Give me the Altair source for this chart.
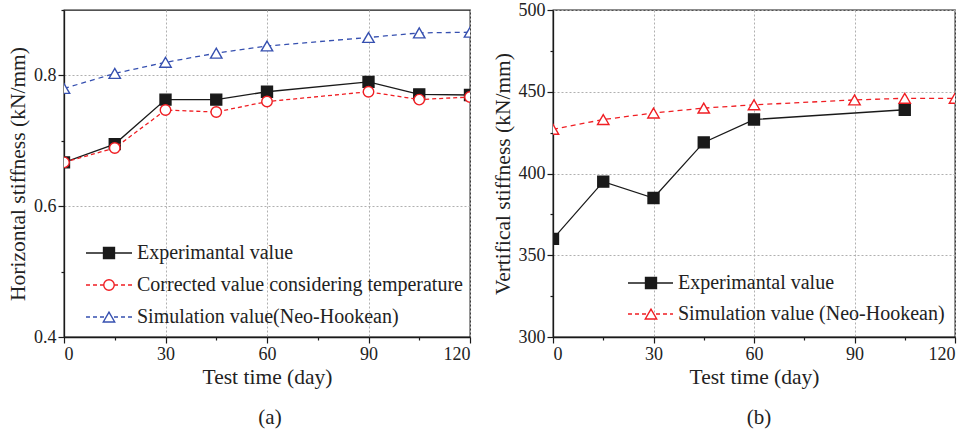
import altair as alt
import pandas as pd

# ---- data -------------------------------------------------------------
days = [0, 15, 30, 45, 60, 90, 105, 120]

h_experimental = [0.667, 0.695, 0.763, 0.763, 0.775, 0.790, 0.771, 0.770]
h_corrected = [0.667, 0.689, 0.747, 0.744, 0.760, 0.775, 0.763, 0.767]
h_simulation = [0.780, 0.803, 0.820, 0.834, 0.845, 0.858, 0.865, 0.866]

v_days_exp = [0, 15, 30, 45, 60, 105]
v_experimental = [360, 395, 385, 419, 433, 439]
v_simulation = [427, 433, 437, 440, 442, 445, 446, 446]

x_ticks = [0, 15, 30, 45, 60, 75, 90, 105, 120]
h_ticks = [0.4, 0.5, 0.6, 0.7, 0.8, 0.9]
v_ticks = [300, 325, 350, 375, 400, 425, 450, 475, 500]

FONT = "Liberation Serif"
BLACK = "#1a1a1a"
RED = "#f01e23"
BLUE = "#3650b0"
TEXT = "#222222"

MARK_SIZE = {"square": 120, "circle": 110, "triangle-up": 130}


def series_layers(x, y, color, dash, shape, filled, xscale, yscale):
    df = pd.DataFrame({"day": x, "value": y})
    base = alt.Chart(df).encode(
        x=alt.X("day:Q", scale=xscale),
        y=alt.Y("value:Q", scale=yscale),
    )
    line_kw = dict(color=color, strokeWidth=1.3, clip=True)
    if dash:
        line_kw["strokeDash"] = dash
    line = base.mark_line(**line_kw)
    pts = base.mark_point(
        shape=shape,
        size=MARK_SIZE[shape],
        filled=True,
        fill=color if filled else "white",
        stroke=color,
        strokeWidth=1.4,
        opacity=1,
        clip=True,
    )
    return [line, pts]


def legend_layers(entries, x0, x1, xm, xt, y0, gap):
    layers = []
    for i, (label, color, dash, shape, filled) in enumerate(entries):
        yy = y0 + i * gap
        d = alt.Chart(pd.DataFrame({"label": [label]}))
        rule_kw = dict(color=color, strokeWidth=1.3)
        if dash:
            rule_kw["strokeDash"] = dash
        layers.append(
            d.mark_rule(**rule_kw).encode(
                x=alt.value(x0), x2=alt.value(x1), y=alt.value(yy)
            )
        )
        layers.append(
            d.mark_point(
                shape=shape,
                size=MARK_SIZE[shape],
                filled=True,
                fill=color if filled else "white",
                stroke=color,
                strokeWidth=1.4,
                opacity=1,
            ).encode(x=alt.value(xm), y=alt.value(yy))
        )
        layers.append(
            d.mark_text(
                align="left", baseline="middle", font=FONT, fontSize=20,
                color=TEXT
            ).encode(x=alt.value(xt), y=alt.value(yy), text="label:N")
        )
    return layers


def caption(text, cx, cy):
    return alt.Chart(pd.DataFrame({"t": [text]})).mark_text(
        font=FONT, fontSize=21, color=TEXT, align="center", baseline="middle"
    ).encode(x=alt.value(cx), y=alt.value(cy), text="t:N")


def x_axis():
    return alt.Axis(
        values=x_ticks,
        labelExpr="datum.value % 30 == 0 ? datum.label : ''",
        tickSize={"condition": {"test": "datum.value % 30 == 0", "value": 6}, "value": 3},
        gridOpacity={"condition": {"test": "datum.value % 30 == 0", "value": 1}, "value": 0},
        title="Test time (day)",
        titlePadding=3,
        labelPadding=2,
    )


xscale = alt.Scale(domain=[0, 120], nice=False, zero=False)

# ---- (a) horizontal stiffness ----------------------------------------
A_W, A_H = 406, 327
hscale = alt.Scale(domain=[0.4, 0.9], nice=False, zero=False)
h_layers = []
h_layers += series_layers(days, h_experimental, BLACK, None, "square", True, xscale, hscale)
h_layers += series_layers(days, h_corrected, RED, [4, 3], "circle", False, xscale, hscale)
h_layers += series_layers(days, h_simulation, BLUE, [5, 4], "triangle-up", False, xscale, hscale)
h_layers[0] = h_layers[0].encode(
    x=alt.X("day:Q", scale=xscale, axis=x_axis()),
    y=alt.Y(
        "value:Q",
        scale=hscale,
        axis=alt.Axis(
            values=h_ticks,
            format=".1f",
            labelExpr="(round(datum.value*10) % 2 == 0 && datum.value < 0.85) ? datum.label : ''",
            tickSize={"condition": {"test": "round(datum.value*10) % 2 == 0", "value": 6}, "value": 3},
            gridOpacity={"condition": {"test": "round(datum.value*10) % 2 == 0", "value": 1}, "value": 0},
            title="Horizontal stiffness (kN/mm)",
            titlePadding=4,
            labelPadding=2,
        ),
    ),
)
h_layers += legend_layers(
    [
        ("Experimantal value", BLACK, None, "square", True),
        ("Corrected value considering temperature", RED, [4, 3], "circle", False),
        ("Simulation value(Neo-Hookean)", BLUE, [4, 3], "triangle-up", False),
    ],
    22, 68, 45, 73, 243, 32,
)
h_layers.append(caption("(a)", A_W / 2 + 3, 408))
panel_a = alt.layer(*h_layers).properties(width=A_W, height=A_H)

# ---- (b) vertical stiffness ------------------------------------------
B_W, B_H = 402, 327
vscale = alt.Scale(domain=[300, 500], nice=False, zero=False)
v_layers = []
v_layers += series_layers(v_days_exp, v_experimental, BLACK, None, "square", True, xscale, vscale)
v_layers += series_layers(days, v_simulation, RED, [5, 4], "triangle-up", False, xscale, vscale)
v_layers[0] = v_layers[0].encode(
    x=alt.X("day:Q", scale=xscale, axis=x_axis()),
    y=alt.Y(
        "value:Q",
        scale=vscale,
        axis=alt.Axis(
            values=v_ticks,
            labelExpr="datum.value % 50 == 0 ? datum.label : ''",
            tickSize={"condition": {"test": "datum.value % 50 == 0", "value": 6}, "value": 3},
            gridOpacity={"condition": {"test": "datum.value % 50 == 0", "value": 1}, "value": 0},
            title="Vertifical stiffness (kN/mm)",
            titlePadding=4,
            labelPadding=2,
        ),
    ),
)
v_layers += legend_layers(
    [
        ("Experimantal value", BLACK, None, "square", True),
        ("Simulation value (Neo-Hookean)", RED, [4, 3], "triangle-up", False),
    ],
    75, 120, 98, 125, 273, 31,
)
v_layers.append(caption("(b)", B_W / 2 + 5, 408))
panel_b = alt.layer(*v_layers).properties(width=B_W, height=B_H)

chart = (
    alt.hconcat(panel_a, panel_b, spacing=19)
    .properties(
        padding={"left": 6, "top": 0, "right": 0, "bottom": 0},
        background="white",
    )
    .configure_view(stroke=BLACK, strokeWidth=1.3)
    .configure_axis(
        labelFont=FONT,
        labelFontSize=18,
        labelColor=TEXT,
        titleFont=FONT,
        titleFontSize=21.5,
        titleFontWeight="normal",
        titleColor=TEXT,
        domainColor=BLACK,
        domainWidth=1.3,
        tickColor=BLACK,
        tickWidth=1.2,
        gridColor="#b0b0b0",
        gridDash=[2, 2],
        gridWidth=1,
    )
)

chart.save("out.html", embed_options={"renderer": "svg", "actions": False})
